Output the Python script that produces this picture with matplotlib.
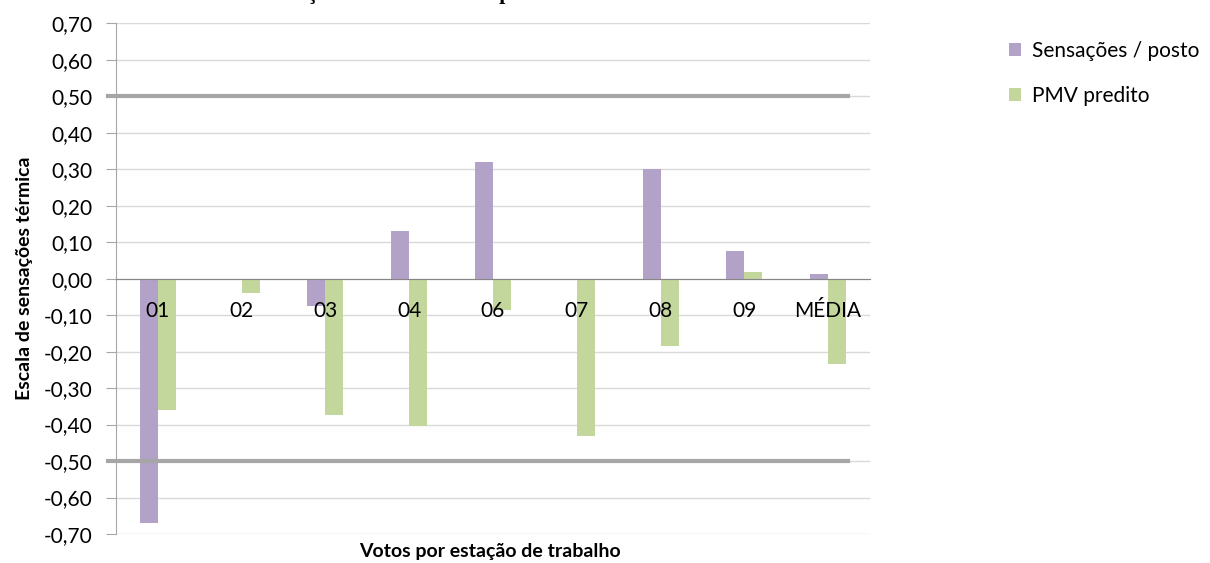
import matplotlib.pyplot as plt
import numpy as np

# dados
postos = ["01", "02", "03", "04", "06", "07", "08", "09", "MÉDIA"]
sensacoes = [-0.67, 0.0, -0.075, 0.13, 0.32, 0.0, 0.30, 0.076, 0.012]
pmv = [-0.36, -0.04, -0.375, -0.405, -0.085, -0.432, -0.185, 0.018, -0.234]
yticks = np.round(np.arange(-0.7, 0.71, 0.1), 2)
limites = [0.5, -0.5]

plt.rcParams['font.family'] = ['Lato', 'DejaVu Sans']

fig = plt.figure(figsize=(12.1, 5.63), dpi=100)
ax = fig.add_axes([116/1210, 1-534/563, (870-116)/1210, (534-23.3)/563])

x = np.arange(len(postos))
w = 0.215
ax.bar(x - w/2, sensacoes, width=w, color="#b3a2c7", label="Sensações / posto", zorder=3)
ax.bar(x + w/2, pmv, width=w, color="#c3d69b", label="PMV predito", zorder=3)

ax.set_xlim(-0.5, len(postos) - 0.5)
ax.set_ylim(-0.7, 0.7)
ax.spines['bottom'].set_position(('data', 0))
ax.spines['bottom'].set_color("#868686")
ax.spines['bottom'].set_zorder(5)
ax.spines['top'].set_visible(False)
ax.spines['right'].set_visible(False)
ax.spines['left'].set_color("#a6a6a6")

ax.set_yticks(yticks)
ax.set_yticklabels([("%.2f" % (v + 0.0)).replace(".", ",").replace("-0,00", "0,00") for v in yticks],
                   fontsize=15)
ax.yaxis.grid(True, color="#d9d9d9", linewidth=1, zorder=0)
ax.tick_params(axis='y', length=7, color="#a6a6a6", pad=10)

ax.set_xticks(x)
ax.set_xticklabels([])
ax.tick_params(axis='x', length=0)
# rotulos das categorias por cima das barras
for i, nome in zip(x, postos):
    ax.text(i, -0.088, nome, fontsize=15, ha="center", va="center", zorder=6)

for v in limites:
    ax.axhline(v, xmin=-0.0106, xmax=0.971, color="#a6a6a6", linewidth=3, zorder=4, clip_on=False)

ax.set_ylabel("Escala de sensações térmica", fontsize=14, fontweight="bold", labelpad=8)
fig.text(490/1210, 1-552/563, "Votos por estação de trabalho", fontsize=14,
         fontweight="bold", ha="center", va="center")

# titulo (cortado no topo, como no original)
fig.text(255/1210, 1 + 1.5/563, "Sensações térmicas reais e preditas", fontsize=15.5,
         fontweight="bold", family="Liberation Serif", ha="left", va="baseline")

fig.legend(loc="upper left", bbox_to_anchor=(990/1210, 1-22/563), frameon=False,
           fontsize=15, handlelength=0.6, handleheight=0.6, handletextpad=0.5,
           labelspacing=1.2)

plt.savefig("out.png", dpi=100)
